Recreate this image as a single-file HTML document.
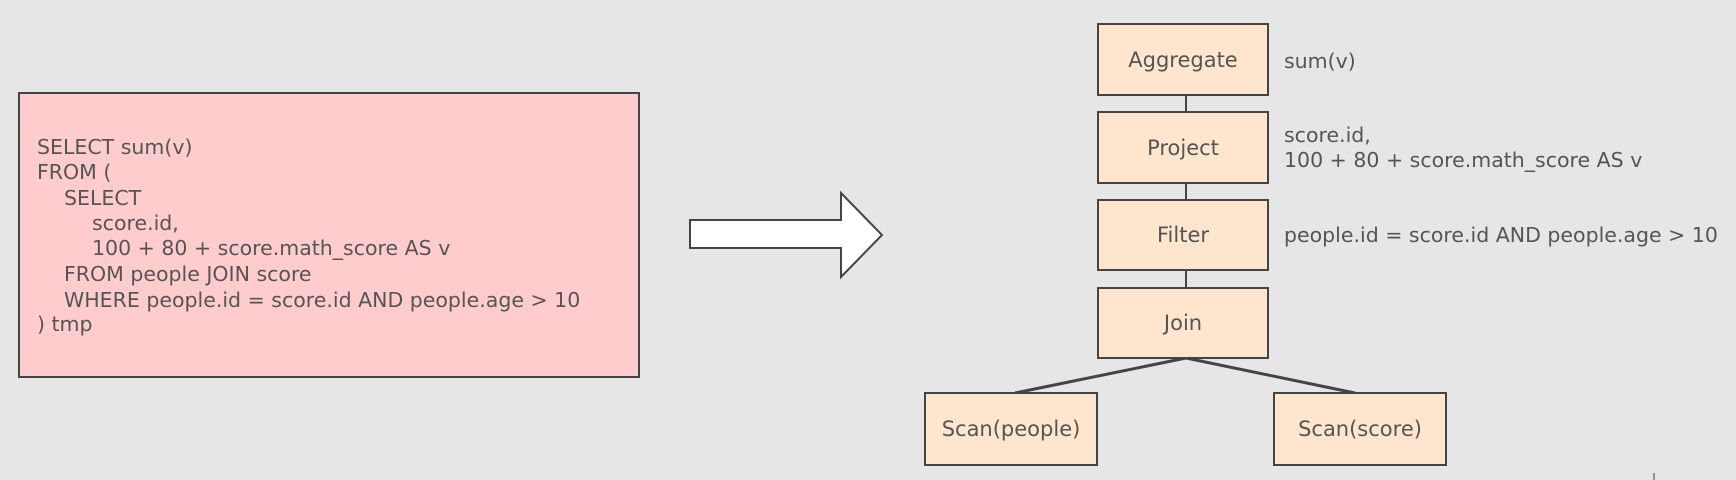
<!DOCTYPE html>
<html><head><style>
html,body{margin:0;padding:0;}
body{width:1736px;height:480px;background:#e6e6e6;position:relative;overflow:hidden;font-family:"DejaVu Sans","Liberation Sans",sans-serif;color:#555;font-size:20.5px;}
.sql{position:absolute;left:18px;top:92px;width:618px;height:282px;background:#ffccce;border:2px solid #444;}
.ln{position:absolute;white-space:pre;line-height:22px;}
.b{position:absolute;width:172px;background:#fde6cd;border:2px solid #444;display:flex;align-items:center;justify-content:center;box-sizing:border-box;font-size:21px;}
.lb{position:absolute;white-space:pre;left:1284px;line-height:22px;}
</style></head><body>
<div class="sql"></div>
<div class="ln" style="left:37px;top:136px">SELECT sum(v)</div>
<div class="ln" style="left:37px;top:161px">FROM (</div>
<div class="ln" style="left:64px;top:187px">SELECT</div>
<div class="ln" style="left:92px;top:212px">score.id,</div>
<div class="ln" style="left:92px;top:237px">100 + 80 + score.math_score AS v</div>
<div class="ln" style="left:64px;top:263px">FROM people JOIN score</div>
<div class="ln" style="left:64px;top:289px">WHERE people.id = score.id AND people.age &gt; 10</div>
<div class="ln" style="left:37px;top:313px">) tmp</div>
<svg style="position:absolute;left:0;top:0" width="1736" height="480">
<polygon points="690,220 841,220 841,193 882,235 841,277 841,248 690,248" fill="#fff" stroke="#444" stroke-width="2"/>
<line x1="1186" y1="95" x2="1186" y2="111" stroke="#444" stroke-width="2"/>
<line x1="1186" y1="183" x2="1186" y2="199" stroke="#444" stroke-width="2"/>
<line x1="1186" y1="270" x2="1186" y2="287" stroke="#444" stroke-width="2"/>
<line x1="1186" y1="358" x2="1015" y2="393" stroke="#444" stroke-width="3"/>
<line x1="1186" y1="358" x2="1355" y2="393" stroke="#444" stroke-width="3"/>
<line x1="1654" y1="473" x2="1654" y2="480" stroke="#444" stroke-width="1"/>
</svg>
<div class="b" style="left:1097px;top:23px;height:73px">Aggregate</div>
<div class="b" style="left:1097px;top:111px;height:73px">Project</div>
<div class="b" style="left:1097px;top:199px;height:72px">Filter</div>
<div class="b" style="left:1097px;top:287px;height:72px">Join</div>
<div class="b" style="left:924px;top:392px;height:74px;width:174px">Scan(people)</div>
<div class="b" style="left:1273px;top:392px;height:74px;width:174px">Scan(score)</div>
<div class="lb" style="top:50px">sum(v)</div>
<div class="lb" style="top:124px">score.id,</div>
<div class="lb" style="top:149px">100 + 80 + score.math_score AS v</div>
<div class="lb" style="top:224px">people.id = score.id AND people.age &gt; 10</div>
</body></html>
